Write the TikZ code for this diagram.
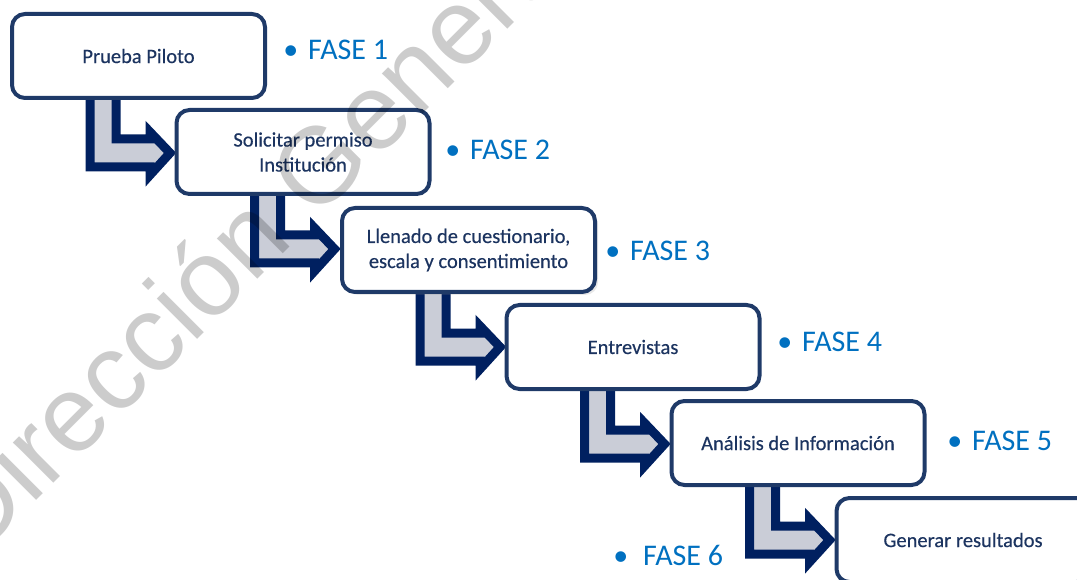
\documentclass[tikz,border=0pt]{standalone}
\usepackage{fontspec}
\setmainfont{Carlito}
\newfontfamily\boxfont{Carlito}[FakeBold=0.35]
\newfontfamily\wmfont{Liberation Sans}
\usetikzlibrary{calc,shadows}
\definecolor{boxblue}{RGB}{31,58,104}
\definecolor{boxtext}{RGB}{28,52,96}
\definecolor{navyline}{RGB}{0,32,96}
\definecolor{arrowgray}{RGB}{202,205,215}
\definecolor{faseblue}{RGB}{0,112,192}
\pgfdeclarelayer{bg}
\pgfsetlayers{bg,main}
\newcommand\bentarrowfrom[1]{%
  \draw[bentarrow] ($(#1)+(-48.5,36)$) -- ($(#1)+(-48.5,111)$) -- ($(#1)+(11.5,111)$)
    -- ($(#1)+(11.5,119)$) -- ($(#1)+(31.5,97)$) -- ($(#1)+(11.5,76)$)
    -- ($(#1)+(11.5,83)$) -- ($(#1)+(-22.5,83)$) -- ($(#1)+(-22.5,36)$) -- cycle;}
\begin{document}
\begin{tikzpicture}[x=1pt,y=-1pt,
  stepbox/.style={draw=boxblue, line width=4pt, rounded corners=13pt, fill=white,
    minimum width=253pt, minimum height=84pt, inner sep=2pt, align=center,
    text=boxtext, font=\boxfont\fontsize{20.5}{25}\selectfont},
  bentarrow/.style={draw=navyline, fill=arrowgray, line width=9pt, line join=miter},
  faselabel/.style={anchor=west, inner sep=0pt, text=faseblue,
    font=\fontsize{30}{30}\selectfont},
]
\useasboundingbox (0,0) rectangle (1077,580);
\clip (0,0) rectangle (1077,580);

\node[stepbox] (b1) at (138.5,56) {Prueba Piloto};
\node[stepbox] (b2) at (303,152) {Solicitar permiso\\Institución};
\node[stepbox, drop shadow={opacity=0.18, shadow xshift=3pt, shadow yshift=-3pt}] (b3) at (468.5,250) {Llenado de cuestionario,\\escala y consentimiento};
\node[stepbox] (b4) at (633,347) {Entrevistas};
\node[stepbox] (b5) at (798,443) {Análisis de Información};
\node[stepbox] (b6) at (963,540) {Generar resultados};

\begin{pgfonlayer}{bg}
  \bentarrowfrom{b1}
  \bentarrowfrom{b2}
  \bentarrowfrom{b3}
  \bentarrowfrom{b4}
  \bentarrowfrom{b5}
\end{pgfonlayer}

\node[faselabel] (f1) at (308,50) {\makebox[0pt][r]{•\hspace{10pt}}FASE 1};
\node[faselabel] (f2) at (470,150) {\makebox[0pt][r]{•\hspace{10pt}}FASE 2};
\node[faselabel] (f3) at (630,251) {\makebox[0pt][r]{•\hspace{10pt}}FASE 3};
\node[faselabel] (f4) at (802,342) {\makebox[0pt][r]{•\hspace{10pt}}FASE 4};
\node[faselabel] (f5) at (972,441) {\makebox[0pt][r]{•\hspace{10pt}}FASE 5};
\node[faselabel] (f6) at (643,555) {\makebox[0pt][r]{•\hspace{15pt}}FASE 6};

\node[rotate=45, anchor=base, inner sep=0pt, text=black, opacity=0.2,
  font=\wmfont\fontsize{108}{108}\selectfont] (wm) at (282,255) {Dirección General};
\end{tikzpicture}
\end{document}
